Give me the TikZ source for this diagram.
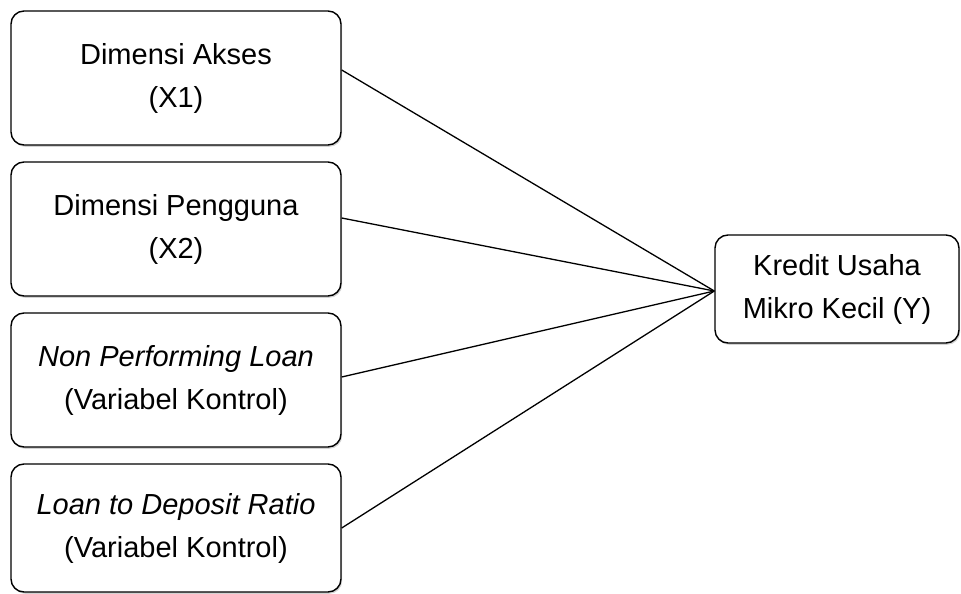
\documentclass[tikz,border=0pt]{standalone}
\usepackage{fontspec}
\setmainfont{Liberation Sans}
\usetikzlibrary{shadows}
\begin{document}
\begin{tikzpicture}[x=1pt,y=-1pt,
  varbox/.style={draw=black, line width=1.4pt, rounded corners=13pt, fill=white,
    align=center, inner sep=0pt, font=\fontsize{29}{43}\selectfont,
    drop shadow={opacity=0.35, shadow xshift=1.2pt, shadow yshift=-1.8pt}},
  link/.style={draw=black, line width=1.3pt}]
\useasboundingbox (0,0) rectangle (961,594);
\node[varbox, minimum width=330pt, minimum height=134pt] (b1) at (176,78) {Dimensi Akses\\(X1)};
\node[varbox, minimum width=330pt, minimum height=134pt] (b2) at (176,229) {Dimensi Pengguna\\(X2)};
\node[varbox, minimum width=330pt, minimum height=134pt] (b3) at (176,380) {\textit{Non Performing Loan}\\(Variabel Kontrol)};
\node[varbox, minimum width=330pt, minimum height=128pt] (b4) at (176,528) {\textit{Loan to Deposit Ratio}\\(Variabel Kontrol)};
\node[varbox, minimum width=244pt, minimum height=108pt] (y) at (837,289) {Kredit Usaha\\Mikro Kecil (Y)};
\draw[link] ([yshift=8pt]b1.east) -- ([yshift=-2pt]y.west);
\draw[link] ([yshift=11pt]b2.east) -- ([yshift=-2pt]y.west);
\draw[link] ([yshift=3pt]b3.east) -- ([yshift=-2pt]y.west);
\draw[link] (b4.east) -- ([yshift=-2pt]y.west);
\end{tikzpicture}
\end{document}
